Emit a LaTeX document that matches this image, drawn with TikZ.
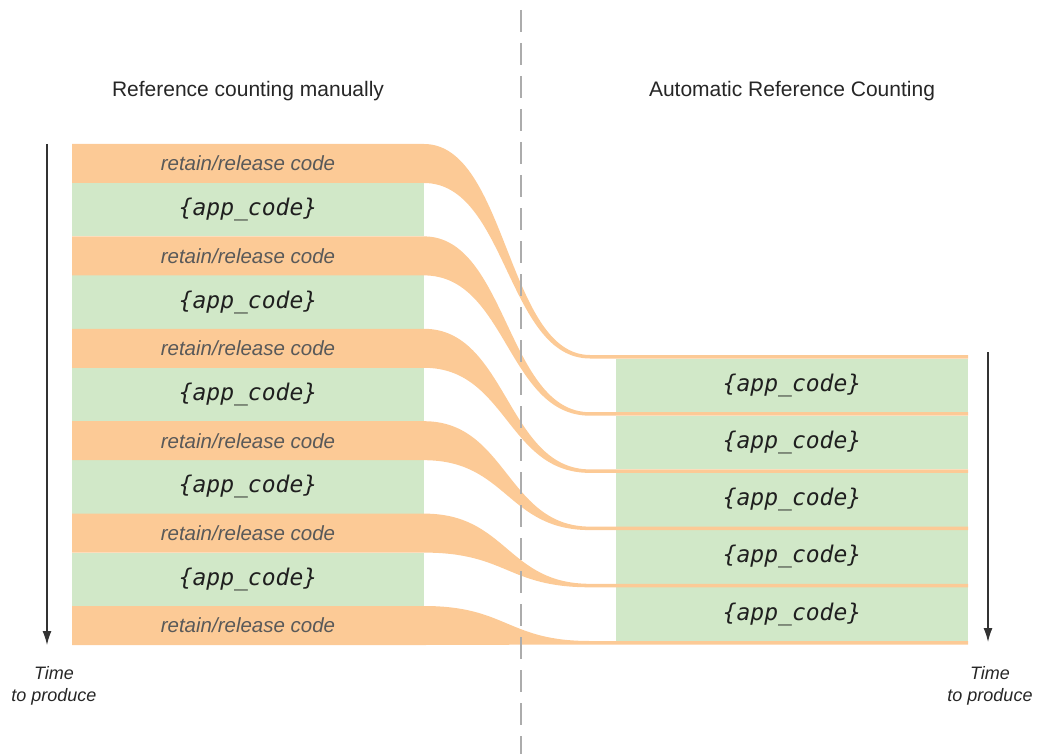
\documentclass[tikz,border=0pt]{standalone}
\usepackage{fontspec}
\setmainfont{Liberation Sans}
\newfontfamily\monofam{DejaVu Sans Mono}
\usetikzlibrary{arrows.meta}
\definecolor{orng}{RGB}{252,202,150}
\definecolor{grn}{RGB}{209,232,200}
\definecolor{dashgray}{RGB}{172,172,172}
\tikzset{
  titletext/.style={font=\fontsize{21}{25}\selectfont, text=black!85},
  rrtext/.style={font=\fontsize{20.5}{24}\selectfont\itshape, text=black!65},
  apptext/.style={font=\monofam\itshape\fontsize{23}{27}\selectfont, text=black!88},
  timetext/.style={font=\fontsize{18}{22}\selectfont\itshape, align=center, text=black!85},
  timearrow/.style={draw=black!80, line width=1.3pt, -{Latex[length=14pt,width=9pt]}},
  divider/.style={draw=dashgray, line width=2pt, dash pattern=on 22pt off 11pt},
}
\begin{document}
\begin{tikzpicture}[x=1pt,y=-1pt]
\useasboundingbox (0,0) rectangle (1038,754);
% titles
\node[titletext] (tl) at (248,91) {Reference counting manually};
\node[titletext] (tr) at (792,91) {Automatic Reference Counting};
% left green rows
\foreach \i in {0,...,4} {
  \pgfmathsetmacro\Bv{144+92.4*\i+39}
  \pgfmathsetmacro\Nv{144+92.4*(\i+1)}
  \fill[grn] (72,\Bv) rectangle (424,\Nv);
  \node[apptext] (al\i) at (248,{(\Bv+\Nv)/2}) {\{app\_code\}};
}
% right green rows
\foreach \i in {0,...,4} {
  \pgfmathsetmacro\Lv{355+57.2*\i+3.5}
  \pgfmathsetmacro\Nv{355+57.2*(\i+1)}
  \fill[grn] (616,\Lv) rectangle (968,\Nv);
  \node[apptext] (ar\i) at (792,{(\Lv+\Nv)/2}) {\{app\_code\}};
}
% orange bands
\foreach \i in {0,...,5} {
  \pgfmathsetmacro\Tv{144+92.4*\i}
  \pgfmathsetmacro\Bv{\Tv+39}
  \pgfmathsetmacro\Lv{355+57.2*\i}
  \pgfmathsetmacro\Mv{\Lv+3.5}
  \fill[orng] (72,\Tv) -- (424,\Tv) .. controls (507,\Tv) and (507,\Lv) .. (590,\Lv)
     -- (968,\Lv) -- (968,\Mv) -- (590,\Mv) .. controls (507,\Mv) and (507,\Bv) .. (424,\Bv)
     -- (72,\Bv) -- cycle;
  \node[rrtext] (rr\i) at (248,{\Tv+19.5}) {retain/release code};
}
% divider
\coordinate (d1) at (521,10);
\coordinate (d2) at (521,754);
\draw[divider] (d1) -- (d2);
% time arrows
\coordinate (la1) at (47,144);
\coordinate (la2) at (47,645);
\draw[timearrow] (la1) -- (la2);
\node[timetext] (ltime) at (54,686) {Time\\to produce};
\coordinate (ra1) at (988,352);
\coordinate (ra2) at (988,642);
\draw[timearrow] (ra1) -- (ra2);
\node[timetext] (rtime) at (990,686) {Time\\to produce};
\end{tikzpicture}
\end{document}
